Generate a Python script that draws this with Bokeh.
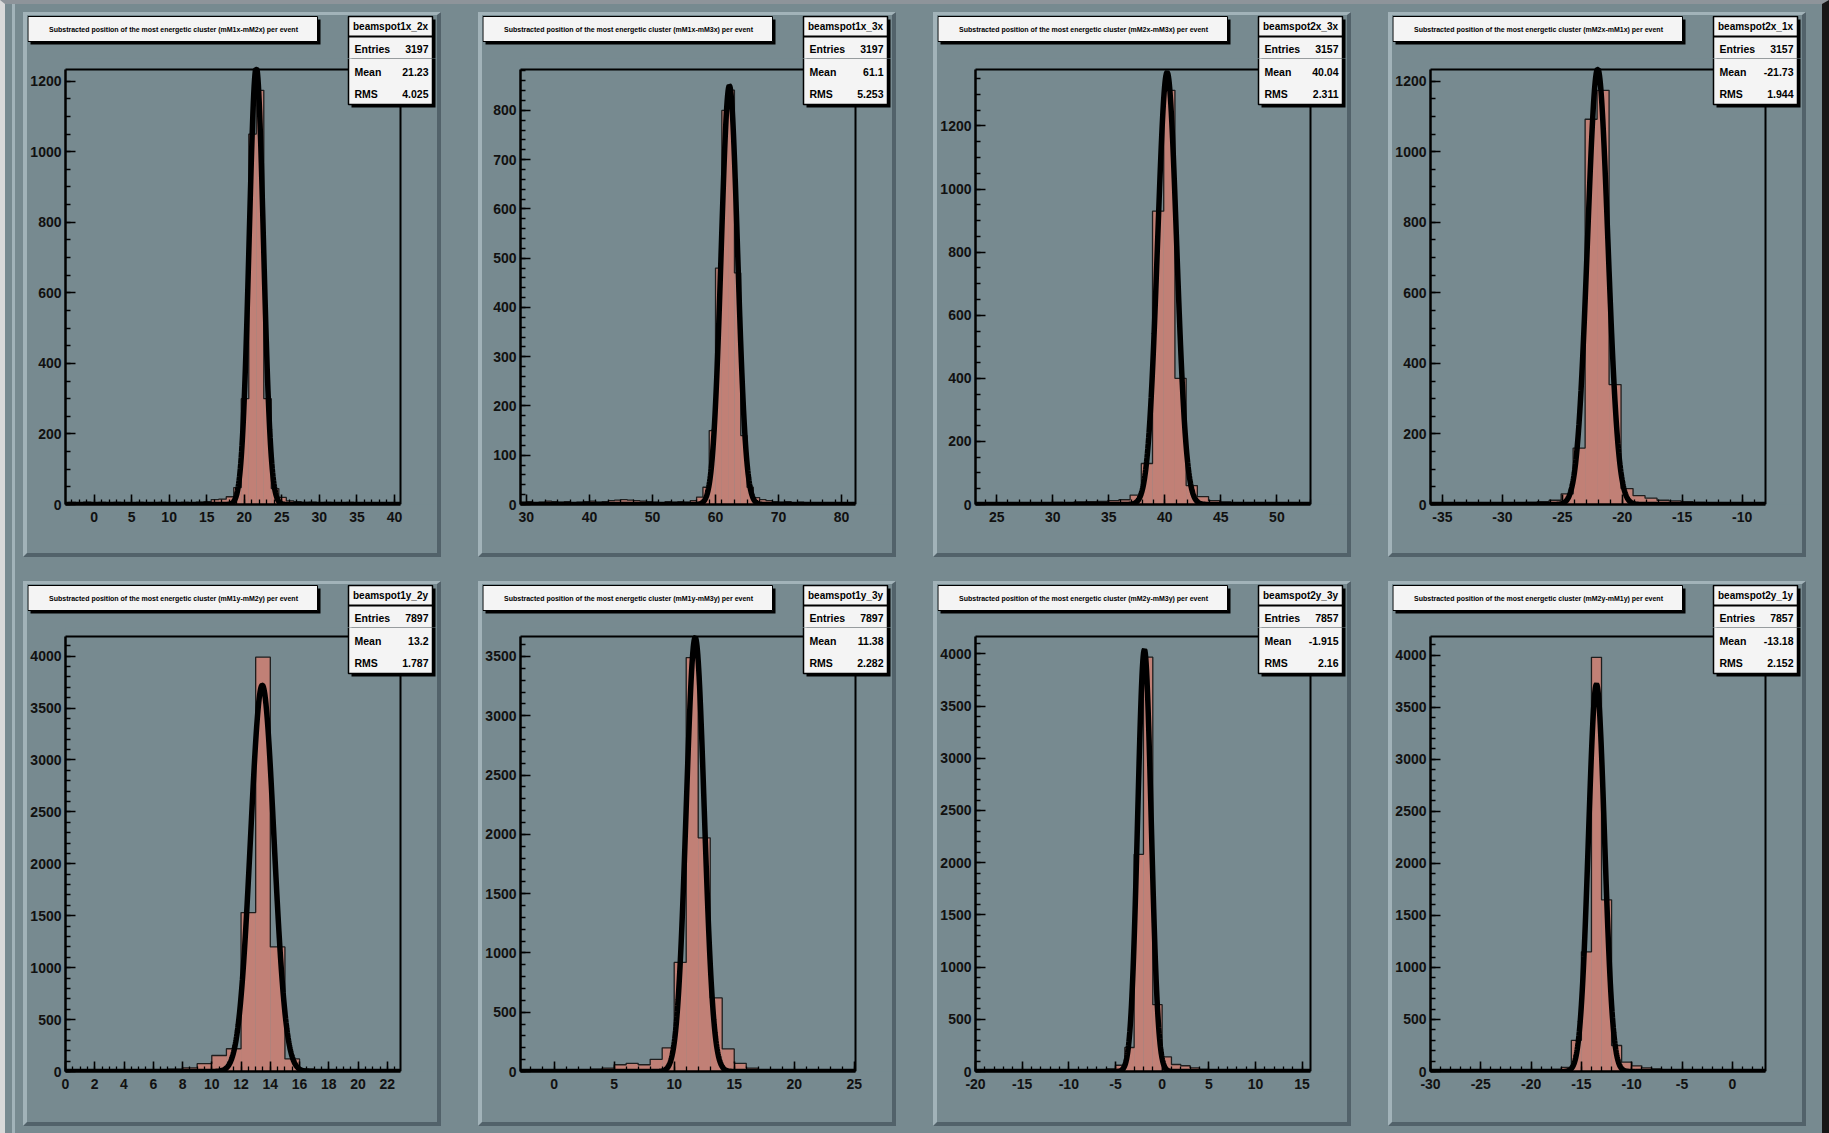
import numpy as np
from bokeh.plotting import figure
from bokeh.layouts import row, column
from bokeh.models import BoxAnnotation, Label, Range1d, FixedTicker
from bokeh.embed import file_html
from bokeh.resources import INLINE

# ---------------- data ----------------
hist_names = ["beamspot1x_2x", "beamspot1x_3x", "beamspot2x_3x", "beamspot2x_1x",
              "beamspot1y_2y", "beamspot1y_3y", "beamspot2y_3y", "beamspot2y_1y"]
titles = [
    "Substracted position of the most energetic cluster (mM1x-mM2x) per event",
    "Substracted position of the most energetic cluster (mM1x-mM3x) per event",
    "Substracted position of the most energetic cluster (mM2x-mM3x) per event",
    "Substracted position of the most energetic cluster (mM2x-mM1x) per event",
    "Substracted position of the most energetic cluster (mM1y-mM2y) per event",
    "Substracted position of the most energetic cluster (mM1y-mM3y) per event",
    "Substracted position of the most energetic cluster (mM2y-mM3y) per event",
    "Substracted position of the most energetic cluster (mM2y-mM1y) per event",
]
stat_entries = ["3197", "3197", "3157", "3157", "7897", "7897", "7857", "7857"]
stat_means = ["21.23", "61.1", "40.04", "-21.73", "13.2", "11.38", "-1.915", "-13.18"]
stat_rms = ["4.025", "5.253", "2.311", "1.944", "1.787", "2.282", "2.16", "2.152"]

# axis ranges
x_min = [-3.8, 29.07, 23.1, -36.0, 0.0, -2.8, -20.0, -30.0]
x_max = [40.8, 82.2, 53.0, -8.05, 22.9, 25.1, 15.9, 3.3]
y_max = [1233, 883, 1379, 1233, 4189, 3668, 4166, 4180]

# tick labels
x_ticks = [[0, 5, 10, 15, 20, 25, 30, 35, 40],
           [30, 40, 50, 60, 70, 80],
           [25, 30, 35, 40, 45, 50],
           [-35, -30, -25, -20, -15, -10],
           [0, 2, 4, 6, 8, 10, 12, 14, 16, 18, 20, 22],
           [0, 5, 10, 15, 20, 25],
           [-20, -15, -10, -5, 0, 5, 10, 15],
           [-30, -25, -20, -15, -10, -5, 0]]
x_minor_step = [1, 2, 1, 1, 0.5, 1, 1, 1]
y_ticks = [[0, 200, 400, 600, 800, 1000, 1200],
           [0, 100, 200, 300, 400, 500, 600, 700, 800],
           [0, 200, 400, 600, 800, 1000, 1200],
           [0, 200, 400, 600, 800, 1000, 1200],
           [0, 500, 1000, 1500, 2000, 2500, 3000, 3500, 4000],
           [0, 500, 1000, 1500, 2000, 2500, 3000, 3500],
           [0, 500, 1000, 1500, 2000, 2500, 3000, 3500, 4000],
           [0, 500, 1000, 1500, 2000, 2500, 3000, 3500, 4000]]
y_minor_step = [50, 20, 50, 50, 100, 100, 100, 100]

# histogram binning (first lower edge, bin width) and bin contents
bin_lo = [-4.4, 29.0, 22.9, -36.1, 0.0, -3.0, -20.0, -30.0]
bin_w = [1.0, 1.0, 1.0, 1.0, 1.0, 1.0, 1.0, 1.0]
h1_counts = [4, 6, 5, 7, 5, 6, 4, 6, 5, 3, 6, 5, 4, 6, 5, 4, 6, 5, 7, 8,
             14, 15, 22, 48, 300, 1050, 1174, 300, 45, 20, 10,
             8, 6, 7, 5, 6, 4, 5, 6, 4, 5, 3, 5, 4, 3, 2]
h2_counts = [5, 6, 4, 5, 7, 6, 5, 6, 4, 5, 6, 7, 5, 6, 8, 9, 10, 9, 8, 7,
             6, 5, 4, 6, 5, 6, 5, 8,
             15, 35, 150, 480, 800, 841, 470, 140, 35, 14,
             10, 8, 6, 5, 6, 4, 5, 3, 4, 3, 2, 3, 2, 1, 2, 1]
h3_counts = [3, 4, 3, 5, 4, 6, 5, 7, 6, 8, 9, 10, 12,
             15, 30, 130, 930, 1313, 400, 60, 25,
             12, 8, 6, 5, 4, 4, 3, 3, 2, 2]
h4_counts = [2, 3, 2, 3, 4, 3, 4, 5, 6, 8,
             12, 30, 160, 1092, 1174, 340, 45, 25, 18,
             12, 10, 8, 6, 5, 4, 4, 3, 3, 2]
h5_counts = [3, 4, 5, 6, 8, 10, 14, 22,
             35, 75, 154, 219, 1530, 3990, 1200, 121, 25,
             10, 6, 4, 3, 2, 2]
h6_counts = [2, 3, 3, 5, 6, 12, 20, 29, 57, 69, 57, 103, 200,
             920, 3490, 1970, 620, 190, 69, 29,
             12, 8, 6, 4, 3, 3, 2, 2, 1]
h7_counts = [1, 2, 2, 3, 2, 3, 4, 3, 5, 6, 8, 10, 14,
             18, 25, 60, 230, 2080, 3968, 640, 140, 67, 55, 35,
             20, 14, 10, 8, 6, 5, 4, 3, 3, 2, 2, 1]
h8_counts = [1, 1, 2, 2, 3, 3, 4, 5, 6, 8,
             10, 14, 20, 40, 300, 1150, 3980, 1650, 250, 90, 55, 35,
             25, 18, 12, 9, 7, 5, 4, 3, 3, 2, 2, 1]
all_counts = [h1_counts, h2_counts, h3_counts, h4_counts,
              h5_counts, h6_counts, h7_counts, h8_counts]

# gaussian fit parameters (constant, mean, sigma)
fit_const = [1240, 850, 1370, 1235, 3720, 3660, 4040, 3720]
fit_mean = [21.6, 62.2, 40.2, -22.05, 13.45, 11.75, -1.9, -13.5]
fit_sigma = [0.95, 1.3, 0.85, 0.85, 0.8, 0.75, 0.72, 0.8]

# ---------------- style / geometry ----------------
SLATE = "#778a90"
PINK = "#c18076"
LIGHT = "#a2b3b9"
DARK = "#52626a"
BOXFILL = "#f4f4f4"
FONT = "Liberation Sans"

PAD_X0 = 23          # page x of first pad
PAD_PITCH_X = 455
PAD_Y0 = [12, 581]   # page y of pads
INNER_W, INNER_H = 410, 538   # pad inside its bevel (4/3/4/4 px)
HEAD_H = 43          # header strip height inside the pad
FRAME_T = [69, 636]  # page y of the frame top
FRAME_W, FRAME_H = 335, 435
AXIS_L = 38          # left axis band inside the pad
MAIN_H = INNER_H - HEAD_H


def no_align(fig):
    if "frame_align" in fig.properties():
        fig.frame_align = False


def overlaps(a, b):
    return a[0] < b[2] and b[0] < a[2] and a[1] < b[3] and b[1] < a[3]


def put_rect(piece, rc):
    fig, ox, oy, vis = piece
    x0, y0, x1, y1, color, line, lw = rc
    if not overlaps((x0 - 2, y0 - 2, x1 + 2, y1 + 2), vis):
        return
    fig.add_layout(BoxAnnotation(
        left=x0 - ox, right=x1 - ox, top=oy - y0, bottom=oy - y1,
        left_units="screen", right_units="screen",
        top_units="screen", bottom_units="screen",
        fill_color=color, fill_alpha=1.0,
        line_color=line if line else color, line_alpha=1.0 if line else 0.0,
        line_width=lw))


def put_label(piece, lb):
    fig, ox, oy, vis = piece
    x, y, text, size, align, bold = lb
    if not (vis[1] <= y <= vis[3]):
        return
    fig.add_layout(Label(
        x=x - ox, y=oy - y, x_units="screen", y_units="screen", text=text,
        text_font=FONT, text_font_size=f"{size}px", text_align=align,
        text_baseline="middle", text_color="black",
        text_font_style="bold" if bold else "normal"))


cells = []
for i in range(8):
    r, c = divmod(i, 4)
    px0 = PAD_X0 + PAD_PITCH_X * c
    py0 = PAD_Y0[r]
    ix0, iy0 = px0 + 4, py0 + 3          # inner top-left (page)
    main_top = iy0 + HEAD_H
    ft = FRAME_T[r]
    fb = ft + FRAME_H
    fl = ix0 + AXIS_L
    fr = fl + FRAME_W
    frame_w = ix0 + INNER_W - fl
    frame_h = fb - main_top
    bottom_border = iy0 + INNER_H - fb

    x_end = x_min[i] + (x_max[i] - x_min[i]) * frame_w / FRAME_W
    y_end = y_max[i] * frame_h / FRAME_H

    # ---- main histogram plot ----
    p = figure(width=INNER_W, height=MAIN_H, output_backend="svg",
               toolbar_location=None, title=None,
               x_range=Range1d(x_min[i], x_end), y_range=Range1d(0, y_end),
               min_border_left=AXIS_L, min_border_right=0,
               min_border_top=0, min_border_bottom=bottom_border)
    no_align(p)
    p.background_fill_color = SLATE
    p.border_fill_color = SLATE
    p.outline_line_color = None
    p.grid.visible = False

    counts = np.array(all_counts[i], dtype=float)
    edges = bin_lo[i] + bin_w[i] * np.arange(len(counts) + 1)
    ce = np.clip(edges, x_min[i], x_max[i])
    p.quad(left=ce[:-1], right=ce[1:], bottom=0, top=counts,
           fill_color=PINK, line_color=None)
    p.step(x=ce, y=np.append(counts, counts[-1]), mode="after",
           line_color="#1e1e1e", line_width=1.3)
    fx = np.linspace(x_min[i], x_max[i], 800)
    fy = fit_const[i] * np.exp(-0.5 * ((fx - fit_mean[i]) / fit_sigma[i]) ** 2)
    p.line(fx, np.minimum(fy, y_max[i]), line_color="black", line_width=5.5)

    xminor = [v for v in np.arange(np.floor(x_min[i]), x_max[i] + 0.01, x_minor_step[i])
              if x_min[i] <= v <= x_max[i]]
    p.xaxis.ticker = FixedTicker(ticks=x_ticks[i], minor_ticks=xminor)
    yminor = list(np.arange(0, y_max[i], y_minor_step[i]))
    p.yaxis.ticker = FixedTicker(ticks=y_ticks[i], minor_ticks=yminor)
    p.xaxis.bounds = (x_min[i], x_max[i])
    p.yaxis.bounds = (0, y_max[i])
    p.xaxis.major_label_overrides = {t: str(t) for t in x_ticks[i]}
    p.yaxis.major_label_overrides = {t: str(t) for t in y_ticks[i]}
    for ax in (p.xaxis, p.yaxis):
        ax.axis_line_width = 2.5
        ax.axis_line_color = "black"
        ax.major_tick_in = 10
        ax.major_tick_out = 0
        ax.minor_tick_in = 5
        ax.minor_tick_out = 0
        ax.major_tick_line_width = 1.6
        ax.minor_tick_line_width = 1.3
        ax.major_tick_line_color = "black"
        ax.minor_tick_line_color = "black"
        ax.major_label_text_font = FONT
        ax.major_label_text_font_style = "bold"
        ax.major_label_text_font_size = "14px"
        ax.major_label_text_color = "#111111"
    p.xaxis.major_label_standoff = 7
    p.yaxis.major_label_standoff = 4

    # ---- header strip (title box, top of stats box) ----
    header = figure(width=INNER_W, height=HEAD_H, output_backend="svg",
                    toolbar_location=None, title=None,
                    x_axis_type=None, y_axis_type=None,
                    x_range=Range1d(0, 1), y_range=Range1d(0, 1),
                    min_border_left=0, min_border_right=0,
                    min_border_top=0, min_border_bottom=0)
    no_align(header)
    header.background_fill_color = SLATE
    header.border_fill_color = SLATE
    header.outline_line_color = None

    pieces = [
        (header, ix0, main_top, (ix0, iy0, ix0 + INNER_W, main_top)),
        (p, fl, fb, (fl, main_top, ix0 + INNER_W, fb)),
    ]
    rects = [
        # frame top and right lines
        (fl - 1, ft - 1, fr + 1, ft + 1, "black", None, 0),
        (fr - 1, ft - 1, fr + 1, fb, "black", None, 0),
        # title box with shadow
        (px0 + 7, py0 + 7, px0 + 297, py0 + 32, "black", None, 0),
        (px0 + 4.5, py0 + 4, px0 + 294, py0 + 29, BOXFILL, "black", 1),
        # stats box with shadow and separator
        (px0 + 328, py0 + 7, px0 + 412, py0 + 95, "black", None, 0),
        (px0 + 325, py0 + 4, px0 + 409, py0 + 92, BOXFILL, "black", 1.5),
        (px0 + 325, py0 + 23, px0 + 409, py0 + 25, "black", None, 0),
    ]
    labels = [
        (px0 + 150, py0 + 17, titles[i], 7, "center", True),
        (px0 + 367, py0 + 14, hist_names[i], 10, "center", True),
    ]
    for k, (nm, vv) in enumerate([("Entries", stat_entries[i]),
                                  ("Mean", stat_means[i]),
                                  ("RMS", stat_rms[i])]):
        yy = py0 + [36, 59, 81][k]
        labels.append((px0 + 331, yy, nm, 10.5, "left", True))
        labels.append((px0 + 405, yy, vv, 10.5, "right", True))

    for pc in pieces:
        for rc in rects:
            put_rect(pc, rc)
        for lb in labels:
            put_label(pc, lb)

    cells.append(column(header, p, spacing=0, styles={
        "border-left": f"4px solid {LIGHT}",
        "border-top": f"3px solid {LIGHT}",
        "border-right": f"4px solid {DARK}",
        "border-bottom": f"4px solid {DARK}",
    }))

layout = column(
    row(*cells[:4], spacing=PAD_PITCH_X - (INNER_W + 8)),
    row(*cells[4:], spacing=PAD_PITCH_X - (INNER_W + 8)),
    spacing=PAD_Y0[1] - (PAD_Y0[0] + INNER_H + 7),
    styles={
        "background-color": SLATE,
        "border-top": "4px solid #8e949a",
        "border-left": "5px solid #d9d9d9",
        "border-right": "7px solid #161616",
        "padding": "8px 16px 7px 18px",
        "box-shadow": f"inset 7px 0 0 0 {SLATE}, inset 10px 0 0 0 {LIGHT}",
    })
open("out.html", "w").write(file_html(layout, INLINE))
